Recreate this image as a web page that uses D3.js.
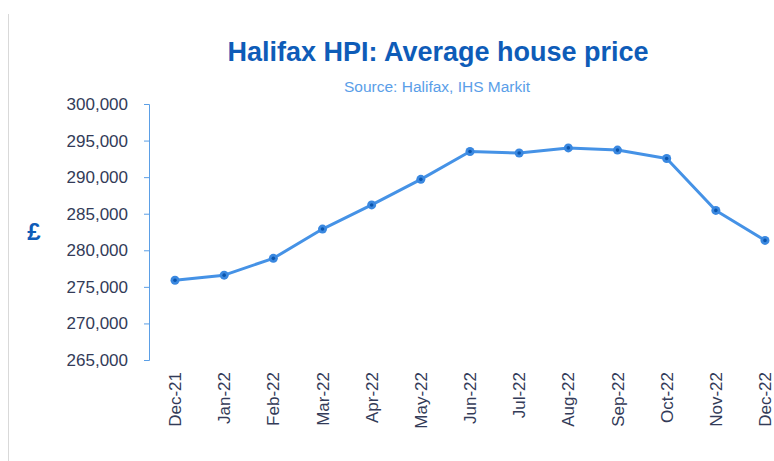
<!DOCTYPE html>
<html>
<head>
<meta charset="utf-8">
<script src="https://cdn.jsdelivr.net/npm/d3@7"></script>
<style>
  body { margin: 0; background: #fff; }
  svg { display: block; font-family: "Liberation Sans", Arial, sans-serif; }
</style>
</head>
<body>
<div id="chart"></div>
<script>
// Halifax HPI, monthly average house price (GBP)
var months = ["Dec-21", "Jan-22", "Feb-22", "Mar-22", "Apr-22", "May-22", "Jun-22",
              "Jul-22", "Aug-22", "Sep-22", "Oct-22", "Nov-22", "Dec-22"];
var prices = [275900, 276600, 278900, 282900, 286200, 289700, 293500,
              293300, 294000, 293700, 292550, 285450, 281350];
var yTicks = [265000, 270000, 275000, 280000, 285000, 290000, 295000, 300000];

function drawChart() {
    var w = 774;
    var h = 461;

    var svg = d3.select("#chart")
                .append("svg")
                .attr("width", w)
                .attr("height", h);

    // light frame edge on the left
    svg.append("line")
        .attr("x1", 8.5).attr("x2", 8.5)
        .attr("y1", 14).attr("y2", h)
        .attr("stroke", "#d9d9d9")
        .attr("stroke-width", 1);

    var x = d3.scalePoint()
              .domain(months)
              .range([175, 765]);

    var y = d3.scaleLinear()
              .domain([265000, 300000])
              .range([360, 104]);

    // title + source
    svg.append("text")
        .attr("x", 438).attr("y", 61)
        .attr("text-anchor", "middle")
        .attr("font-size", 27)
        .attr("font-weight", "bold")
        .attr("fill", "#0e5cb8")
        .text("Halifax HPI: Average house price");

    svg.append("text")
        .attr("x", 437).attr("y", 92)
        .attr("text-anchor", "middle")
        .attr("font-size", 15.5)
        .attr("fill", "#5a9ee8")
        .text("Source: Halifax, IHS Markit");

    // y axis
    var yAxis = svg.append("g")
        .attr("transform", "translate(149,0)")
        .call(d3.axisLeft(y)
                .tickValues(yTicks)
                .tickSize(5)
                .tickPadding(16)
                .tickFormat(d3.format(",")));
    yAxis.selectAll("path, line").attr("stroke", "#5b9fe6");
    yAxis.select(".domain").attr("d", "M-5,104.5H0.5V360.5H-5");
    yAxis.selectAll("text")
        .attr("font-size", 17)
        .attr("font-family", "Liberation Sans, Arial, sans-serif")
        .attr("fill", "#333b58");

    // pound sign axis title
    svg.append("text")
        .attr("x", 34).attr("y", 240)
        .attr("text-anchor", "middle")
        .attr("font-size", 24)
        .attr("font-weight", "bold")
        .attr("fill", "#0e5cb8")
        .text("£");

    // x labels (no axis line)
    svg.selectAll(".xlab")
        .data(months)
        .enter()
        .append("text")
        .attr("class", "xlab")
        .attr("transform", d => "translate(" + (x(d) + 6) + ",372) rotate(-90)")
        .attr("text-anchor", "end")
        .attr("font-size", 17)
        .attr("fill", "#333b58")
        .text(d => d);

    // line
    var line = d3.line()
                 .x((d, i) => x(months[i]))
                 .y(d => y(d));

    svg.append("path")
        .datum(prices)
        .attr("d", line)
        .attr("fill", "none")
        .attr("stroke", "#4592e6")
        .attr("stroke-width", 3)
        .attr("stroke-linejoin", "round");

    // markers
    svg.selectAll(".pt")
        .data(prices)
        .enter()
        .append("circle")
        .attr("class", "pt")
        .attr("cx", (d, i) => x(months[i]))
        .attr("cy", d => y(d))
        .attr("r", 4.5)
        .attr("fill", "#3a88e0");

    svg.selectAll(".dot")
        .data(prices)
        .enter()
        .append("circle")
        .attr("class", "dot")
        .attr("cx", (d, i) => x(months[i]))
        .attr("cy", d => y(d))
        .attr("r", 1.8)
        .attr("fill", "#0b55ad");
}

window.onload = drawChart;
</script>
</body>
</html>
